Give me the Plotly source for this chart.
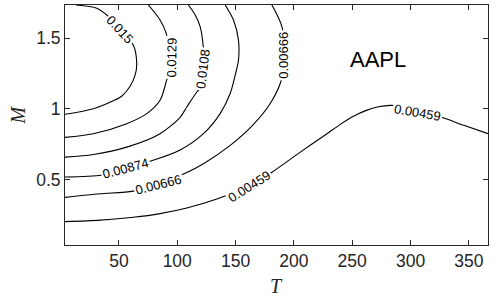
import plotly.graph_objects as go

# Contour levels (values of the labelled iso-lines)
levels = [0.015, 0.0129, 0.0108, 0.00874, 0.00666, 0.00459]
level_text = ["0.015", "0.0129", "0.0108", "0.00874", "0.00666", "0.00459"]

# Iso-line paths (T, M)
T_0150 = [13.2, 31.0, 39.6, 51.0, 62.4, 65.3, 63.9, 59.6, 52.4, 45.2, 28.1, 3.8]
M_0150 = [1.734, 1.711, 1.663, 1.564, 1.450, 1.321, 1.238, 1.160, 1.089, 1.057, 1.001, 0.961]

T_0129 = [75.3, 85.3, 90.5, 93.9, 93.0, 90.5, 85.3, 73.9, 56.7, 28.1, 3.8]
M_0129 = [1.734, 1.628, 1.535, 1.379, 1.273, 1.190, 1.060, 0.966, 0.895, 0.824, 0.798]

T_0108 = [109.6, 115.4, 119.7, 122.2, 123.1, 119.7, 116.8, 108.2, 102.5, 85.3, 56.7, 28.1, 3.8]
M_0108 = [1.734, 1.663, 1.580, 1.450, 1.294, 1.145, 1.119, 1.013, 0.940, 0.824, 0.729, 0.677, 0.658]

T_00874 = [141.1, 148.2, 152.5, 152.5, 149.7, 145.4, 136.8, 122.5, 102.5, 77.3, 55.3, 35.3, 3.8]
M_00874 = [1.734, 1.628, 1.486, 1.344, 1.238, 1.108, 0.966, 0.824, 0.709, 0.631, 0.585, 0.532, 0.518]

T_00666 = [181.2, 189.8, 191.8, 189.2, 179.7, 165.4, 145.4, 122.5, 105.9, 84.5, 62.4, 33.8, 3.8]
M_00666 = [1.734, 1.580, 1.379, 1.202, 1.037, 0.890, 0.741, 0.611, 0.540, 0.468, 0.418, 0.399, 0.374]

T_00459 = [3.8, 33.8, 62.4, 85.3, 108.2, 134.0, 161.7, 181.2, 205.5, 228.4, 239.8, 251.0,
           262.1, 272.4, 282.7, 291.3, 305.1, 327.1, 345.7, 366.4]
M_00459 = [0.202, 0.213, 0.233, 0.259, 0.299, 0.363, 0.452, 0.552, 0.694, 0.824, 0.890, 0.947,
           0.989, 1.014, 1.024, 1.018, 0.982, 0.938, 0.883, 0.824]

paths = [(T_0150, M_0150), (T_0129, M_0129), (T_0108, M_0108),
         (T_00874, M_00874), (T_00666, M_00666), (T_00459, M_00459)]

# Inline label placements: (level index, T, M, angle)
label_spots = [
    (0, 51.0, 1.564, 47),
    (1, 95.4, 1.362, -89),
    (2, 121.8, 1.280, -83),
    (3, 55.3, 0.580, -15),
    (4, 84.3, 0.463, -14),
    (4, 191.2, 1.379, -90),
    (5, 161.7, 0.449, -32),
    (5, 305.6, 0.975, 10),
]

x_ticks = [50, 100, 150, 200, 250, 300, 350]
y_ticks = [0.5, 1, 1.5]

fig = go.Figure()
for (tx, my) in paths:
    fig.add_trace(go.Scatter(
        x=tx, y=my, mode="lines",
        line=dict(color="black", width=1.1, shape="spline", smoothing=0.8),
        hoverinfo="skip", showlegend=False,
    ))

annotations = []
for idx, t, m, ang in label_spots:
    annotations.append(dict(
        x=t, y=m, xref="x", yref="y", text=level_text[idx], showarrow=False,
        textangle=ang, bgcolor="white", borderpad=1,
        font=dict(family="Liberation Sans, Arial", size=13, color="black"),
    ))
annotations.append(dict(
    x=272, y=1.351, xref="x", yref="y", text="AAPL", showarrow=False,
    font=dict(family="Liberation Sans, Arial", size=22, color="black"),
))
# axis titles placed in paper space
annotations.append(dict(
    x=0.5, y=-0.172, xref="paper", yref="paper", text="<i>T</i>", showarrow=False,
    xanchor="center", yanchor="middle",
    font=dict(family="Liberation Serif, Times New Roman", size=20, color="#262626"),
))
annotations.append(dict(
    x=-0.111, y=0.54, xref="paper", yref="paper", text="<i>M</i>", showarrow=False,
    xanchor="center", yanchor="middle", textangle=-90,
    font=dict(family="Liberation Serif, Times New Roman", size=20, color="#262626"),
))

axis_common = dict(
    showline=True, linecolor="#262626", linewidth=1, mirror="ticks",
    ticks="inside", ticklen=5, tickwidth=1, tickcolor="#262626",
    showgrid=False, zeroline=False, automargin=False,
    tickfont=dict(family="Liberation Sans, Arial", size=17.5, color="#262626"),
)

fig.update_layout(
    width=500, height=300,
    margin=dict(l=65, r=12, t=5, b=55),
    paper_bgcolor="white", plot_bgcolor="white",
    xaxis=dict(range=[3.8, 366.4], tickvals=x_ticks, **axis_common),
    yaxis=dict(range=[0.037, 1.734], tickvals=y_ticks, ticktext=["0.5", "1", "1.5"],
               **axis_common),
    annotations=annotations,
)

fig.write_html("out.html", config={"displayModeBar": False},
               post_script="document.body.style.margin='0';")
